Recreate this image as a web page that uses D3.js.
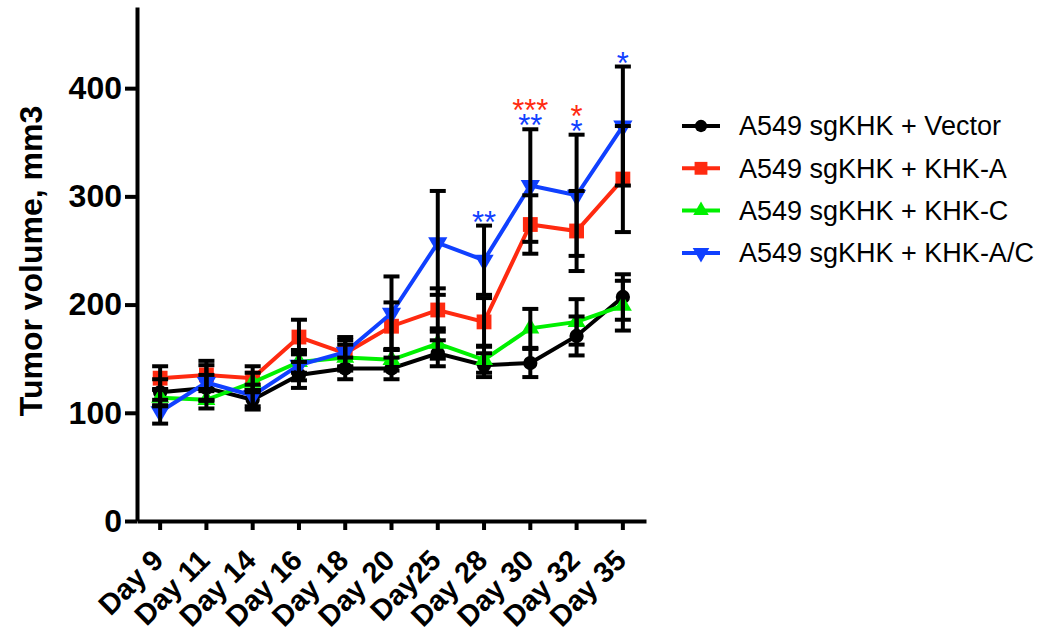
<!DOCTYPE html>
<html>
<head>
  <meta charset="utf-8">
  <style>
    body { margin: 0; background: #fff; }
    text { font-family: "Liberation Sans", Arial, sans-serif; }
  </style>
</head>
<body>
  <svg width="1045" height="634"></svg>
</body>
<script src="https://d3js.org/d3.v7.min.js"></script>
<script>

var days = ["Day 9", "Day 11", "Day 14", "Day 16", "Day 18", "Day 20", "Day25", "Day 28", "Day 30", "Day 32", "Day 35"];

var vector    = [119, 123, 112, 135, 141, 141, 155, 144, 146, 171, 207];
var vectorErr = [12, 12, 9, 12, 10, 10, 12, 11, 13, 18, 21];
var khkA      = [132, 135, 132, 170, 155, 180, 195, 184, 274, 268, 316];
var khkAErr   = [11, 13, 11, 16, 12, 22, 20, 22, 27, 37, 49];
var khkC      = [114, 112, 128, 147, 151, 149, 164, 149, 178, 184, 199];
var khkCErr   = [8, 8, 9, 10, 12, 10, 14, 12, 18, 21, 23];
var khkAC     = [101, 128, 116, 144, 156, 192, 257, 241, 310, 301, 365];
var khkACErr  = [11, 16, 10, 14, 14, 34, 48, 32, 52, 56, 55];

var yTicks = [0, 100, 200, 300, 400];

// significance marks above the bars
var starDays  = ["Day 28", "Day 30", "Day 32", "Day 35"];
var blueStars = ["**", "**", "*", "*"];
var redStars  = ["", "***", "*", ""];

var series = [
  { name: "A549 sgKHK + Vector", values: vector, errs: vectorErr, color: "#000000", symbol: d3.symbolCircle, size: 160, rot: 0 },
  { name: "A549 sgKHK + KHK-A",  values: khkA,   errs: khkAErr,   color: "#ff2a10", symbol: d3.symbolSquare, size: 220, rot: 0 },
  { name: "A549 sgKHK + KHK-C",  values: khkC,   errs: khkCErr,   color: "#00f000", symbol: d3.symbolTriangle, size: 140, rot: 0 },
  { name: "A549 sgKHK + KHK-A/C", values: khkAC, errs: khkACErr,  color: "#1040ff", symbol: d3.symbolTriangle, size: 160, rot: 180 }
];

var svg = d3.select("svg");

var x = d3.scaleBand().domain(days).range([137, 646]).padding(0);
var y = d3.scaleLinear().domain([0, 475]).range([521, 7]);

function cx(d) { return x(d) + x.bandwidth() / 2; }

// axes
var yAxis = svg.append("g")
    .attr("transform", "translate(137,0)")
    .call(d3.axisLeft(y).tickValues(yTicks).tickSize(12).tickSizeOuter(0).tickPadding(3));
yAxis.select(".domain").attr("stroke-width", 4);
yAxis.selectAll(".tick line").attr("stroke-width", 4);
yAxis.selectAll(".tick text")
    .attr("font-size", 32).attr("font-weight", "bold").attr("fill", "#000")
    .attr("font-family", "Liberation Sans, Arial, sans-serif");

var xAxis = svg.append("g")
    .attr("transform", "translate(0,521)")
    .call(d3.axisBottom(x).tickSize(9).tickSizeOuter(0));
xAxis.select(".domain").attr("stroke-width", 4);
xAxis.selectAll(".tick line").attr("stroke-width", 4);
xAxis.selectAll(".tick text")
    .attr("font-size", 29).attr("font-weight", "bold").attr("fill", "#000")
    .attr("font-family", "Liberation Sans, Arial, sans-serif")
    .attr("text-anchor", "end")
    .attr("y", 0).attr("dy", 0)
    .attr("transform", "translate(5,41) rotate(-45)");

svg.append("text")
    .attr("transform", "translate(42,261) rotate(-90)")
    .attr("text-anchor", "middle")
    .attr("font-size", 32)
    .attr("font-weight", "bold")
    .text("Tumor volume, mm3");

// lines, markers, error bars
var line = d3.line()
    .x(function(d, i) { return cx(days[i]); })
    .y(function(d) { return y(d); });

var groups = svg.selectAll(".series")
    .data(series)
    .enter().append("g").attr("class", "series");

groups.append("path")
    .attr("d", function(s) { return line(s.values); })
    .attr("fill", "none")
    .attr("stroke", function(s) { return s.color; })
    .attr("stroke-width", 4);

groups.each(function(s) {
  d3.select(this).selectAll(".pt")
    .data(s.values)
    .enter().append("path")
    .attr("class", "pt")
    .attr("d", d3.symbol().type(s.symbol).size(s.size))
    .attr("fill", s.color)
    .attr("transform", function(d, i) {
      return "translate(" + cx(days[i]) + "," + y(d) + ") rotate(" + s.rot + ")";
    });
});

var errG = svg.append("g").attr("stroke", "#000").attr("stroke-width", 4);
series.forEach(function(s) {
  s.values.forEach(function(v, i) {
    var px = cx(days[i]), e = s.errs[i];
    errG.append("line").attr("x1", px).attr("x2", px).attr("y1", y(v - e)).attr("y2", y(v + e));
    errG.append("line").attr("x1", px - 8).attr("x2", px + 8).attr("y1", y(v + e)).attr("y2", y(v + e));
    errG.append("line").attr("x1", px - 8).attr("x2", px + 8).attr("y1", y(v - e)).attr("y2", y(v - e));
  });
});

// significance stars, one text per day (blue row on the bar, red row above)
var starText = svg.selectAll(".star")
  .data(starDays)
  .enter().append("text")
  .attr("class", "star")
  .attr("text-anchor", "middle")
  .attr("font-size", 31);

starText.each(function(d, k) {
  var i = days.indexOf(d);
  var top = d3.max(series, function(s) { return s.values[i] + s.errs[i]; });
  var base = y(top) - 11 + 18;
  var t = d3.select(this);
  if (redStars[k]) {
    t.append("tspan").attr("x", cx(d)).attr("y", base - 15)
      .attr("fill", series[1].color).text(redStars[k]);
  }
  t.append("tspan").attr("x", cx(d)).attr("y", base)
    .attr("fill", series[3].color).text(blueStars[k]);
});

// legend
var legend = svg.selectAll(".legend")
  .data(series)
  .enter().append("g")
  .attr("class", "legend")
  .attr("transform", function(d, i) { return "translate(0," + (126 + i * 42.3) + ")"; });

legend.append("line")
  .attr("x1", 682).attr("x2", 720)
  .attr("stroke", function(d) { return d.color; })
  .attr("stroke-width", 4);

legend.append("path")
  .attr("d", function(d) { return d3.symbol().type(d.symbol).size(d.size * 0.75)(); })
  .attr("fill", function(d) { return d.color; })
  .attr("transform", function(d) { return "translate(701,0) rotate(" + d.rot + ")"; });

legend.append("text")
  .attr("x", 739).attr("dy", "0.35em")
  .attr("font-size", 27)
  .text(function(d) { return d.name; });

</script>
</html>
